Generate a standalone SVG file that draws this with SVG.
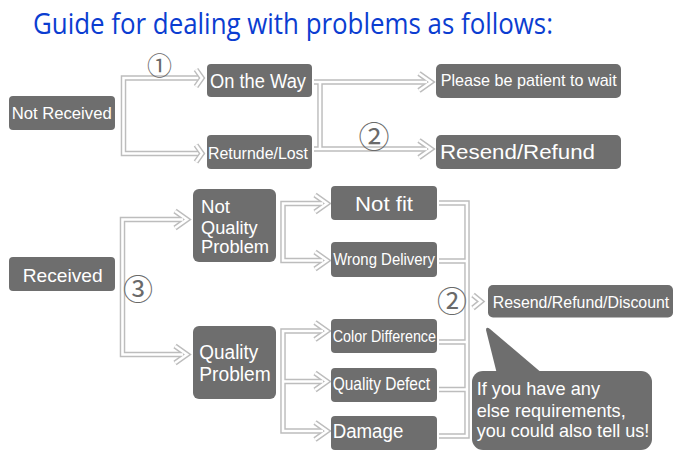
<svg xmlns="http://www.w3.org/2000/svg" xmlns:xlink="http://www.w3.org/1999/xlink" width="688" height="460" viewBox="0 0 688 460">
<style>
.box{fill:#6e6e6e}
.t{fill:#ffffff;font-family:"Liberation Sans",Arial,sans-serif}
.num{fill:#6a6a6a;font-family:"Noto Sans CJK SC","DejaVu Sans",sans-serif}
.outer{stroke:#bdbdbd;stroke-width:5.5;fill:none;stroke-linejoin:miter}
.inner{stroke:#ffffff;stroke-width:2.6;fill:none;stroke-linejoin:miter}
</style>
<defs>
<g id="wires" fill="none">
<path d="M198,78 H123.5 V153.5 H198"/>
<path d="M196,69.5 L202,78 L196,86.5"/>
<path d="M196,145 L202,153.5 L196,162"/>
<path d="M314,82 H427 M320,82 V149 M314,149 H427"/>
<path d="M419,73.5 L431,82 L419,90.5"/>
<path d="M419,140.5 L431,149 L419,157.5"/>
<path d="M183,219.5 H122.5 V354.5 H183"/>
<path d="M175,211 L187,219.5 L175,228"/>
<path d="M175,346 L187,354.5 L175,363"/>
<path d="M323,203.5 H283 V260.5 H323"/>
<path d="M315,195 L327,203.5 L315,212"/>
<path d="M315,252 L327,260.5 L315,269"/>
<path d="M323,331 H283 V431 H323 M283,381.5 H323"/>
<path d="M315,322.5 L327,331 L315,339.5"/>
<path d="M315,373 L327,381.5 L315,390"/>
<path d="M315,422.5 L327,431 L315,439.5"/>
<path d="M439,203 H467 V436 H439 M439,261 H467 M439,342 H467 M439,389.5 H467"/>
<path d="M473,295 L481,301.5 L473,308"/>
</g>
</defs>

<text x="33" y="34" font-family="'Open Sans','Noto Sans',sans-serif" font-size="29" fill="#0b3dd1" textLength="520" lengthAdjust="spacingAndGlyphs">Guide for dealing with problems as follows:</text>

<g id="connectors">
<g class="outer"><use xlink:href="#wires" href="#wires"/></g>
<g class="inner"><use xlink:href="#wires" href="#wires"/></g>
</g>

<g id="labels">
<text class="num" x="159.5" y="74.5" font-size="25" text-anchor="middle">①</text>
<text class="num" x="374" y="148" font-size="31" text-anchor="middle">②</text>
<text class="num" x="138" y="299.5" font-size="30" text-anchor="middle">③</text>
<text class="num" x="452" y="312" font-size="30" text-anchor="middle">②</text>
</g>

<g id="not-received"><rect class="box" x="9" y="96" width="106" height="34" rx="4"/><text class="t" x="11.7" y="119" font-size="16.5" textLength="100" lengthAdjust="spacingAndGlyphs">Not Received</text></g>
<g id="on-the-way"><rect class="box" x="207" y="64" width="105" height="33" rx="4"/><text class="t" x="210" y="88.3" font-size="20" textLength="96" lengthAdjust="spacingAndGlyphs">On the Way</text></g>
<g id="returned-lost"><rect class="box" x="207" y="135" width="105" height="34" rx="4"/><text class="t" x="208" y="159" font-size="16" textLength="100" lengthAdjust="spacingAndGlyphs">Returnde/Lost</text></g>
<g id="please-wait"><rect class="box" x="436" y="64" width="185" height="34" rx="5"/><text class="t" x="440.7" y="85.7" font-size="17" textLength="176" lengthAdjust="spacingAndGlyphs">Please be patient to wait</text></g>
<g id="resend-refund"><rect class="box" x="436" y="135" width="185" height="34" rx="5"/><text class="t" x="440" y="159.3" font-size="20" textLength="155" lengthAdjust="spacingAndGlyphs">Resend/Refund</text></g>
<g id="received"><rect class="box" x="9" y="257" width="106" height="34" rx="4"/><text class="t" x="22.7" y="281.7" font-size="18.5" textLength="80" lengthAdjust="spacingAndGlyphs">Received</text></g>
<g id="not-quality-problem"><rect class="box" x="193" y="189" width="83" height="73" rx="6"/><text class="t" font-size="18"><tspan x="201" y="213.3" textLength="29" lengthAdjust="spacingAndGlyphs">Not</tspan><tspan x="201" y="234.3" textLength="56.7" lengthAdjust="spacingAndGlyphs">Quality</tspan><tspan x="201" y="252.7" textLength="68" lengthAdjust="spacingAndGlyphs">Problem</tspan></text></g>
<g id="quality-problem"><rect class="box" x="193" y="326" width="83" height="73" rx="6"/><text class="t" font-size="20"><tspan x="199.3" y="359.3" textLength="59" lengthAdjust="spacingAndGlyphs">Quality</tspan><tspan x="199.3" y="381" textLength="71.4" lengthAdjust="spacingAndGlyphs">Problem</tspan></text></g>
<g id="not-fit"><rect class="box" x="331" y="186" width="106" height="34" rx="4"/><text class="t" x="355" y="210.7" font-size="21" textLength="58" lengthAdjust="spacingAndGlyphs">Not fit</text></g>
<g id="wrong-delivery"><rect class="box" x="331" y="242" width="106" height="35" rx="4"/><text class="t" x="333.3" y="265" font-size="16.3" textLength="101.7" lengthAdjust="spacingAndGlyphs">Wrong Delivery</text></g>
<g id="resend-refund-discount"><rect class="box" x="488" y="285" width="185" height="32.5" rx="5"/><text class="t" x="492.7" y="308.3" font-size="16.3" textLength="176.6" lengthAdjust="spacingAndGlyphs">Resend/Refund/Discount</text></g>
<g id="color-difference"><rect class="box" x="331" y="319" width="106" height="34" rx="4"/><text class="t" x="332.7" y="342.3" font-size="16.3" textLength="103.3" lengthAdjust="spacingAndGlyphs">Color Difference</text></g>
<g id="quality-defect"><rect class="box" x="331" y="368" width="106" height="34" rx="4"/><text class="t" x="332.7" y="390" font-size="18.5" textLength="97.3" lengthAdjust="spacingAndGlyphs">Quality Defect</text></g>
<g id="damage"><rect class="box" x="331" y="416" width="106" height="34" rx="4"/><text class="t" x="332.7" y="438.3" font-size="19.5" textLength="70.6" lengthAdjust="spacingAndGlyphs">Damage</text></g>
<g id="note-bubble"><rect class="box" x="472" y="371" width="180" height="79" rx="11"/><path class="box" d="M497,374 L486,330 Q486,326 490,329 L543,374 Z"/><text class="t" font-size="18.6"><tspan x="476.7" y="395" textLength="123.3" lengthAdjust="spacingAndGlyphs">If you have any</tspan><tspan x="476.7" y="416.7" textLength="149" lengthAdjust="spacingAndGlyphs">else requirements,</tspan><tspan x="476.7" y="437" textLength="172.6" lengthAdjust="spacingAndGlyphs">you could also tell us!</tspan></text></g>
</svg>
